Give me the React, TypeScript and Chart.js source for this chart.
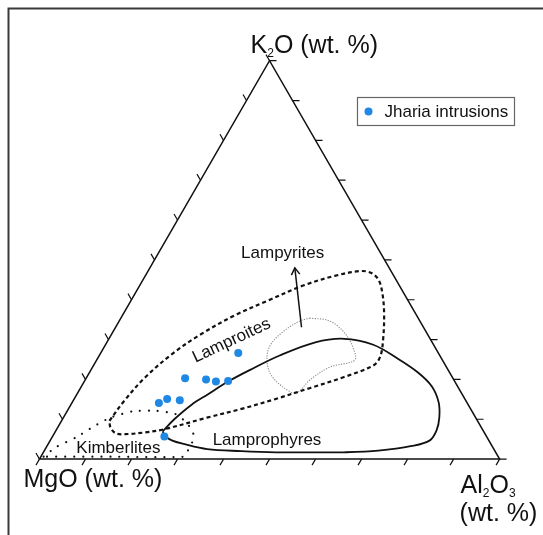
import { useEffect, useRef } from "react";
import { Chart, registerables } from "chart.js";

Chart.register(...registerables);

// ---- Data (ternary compositions, wt. %: K2O / Al2O3, MgO = remainder) ----
const jhariaK2O = [26.6, 20.3, 20.0, 19.5, 19.6, 14.1, 15.1, 14.8, 5.7];
const jhariaAl2O3 = [29.9, 21.5, 26.2, 28.6, 31.2, 18.9, 20.2, 23.1, 24.3];

const lamproiteK2O = [9.6, 14.6, 20.5, 26.5, 31.2, 36.1, 39.8, 43.5, 46.0, 47.2, 46.7, 45.0, 41.8, 36.8, 30.2, 25.7, 23.5, 20.6, 17.8, 15.1, 12.6, 10.4, 7.5, 6.7, 6.3, 6.4, 7.9, 9.6];
const lamproiteAl2O3 = [10.4, 11.1, 12.7, 15.7, 19.3, 24.4, 29.8, 35.4, 41.2, 46.2, 48.8, 51.2, 53.6, 56.5, 59.6, 61.2, 60.8, 55.9, 49.8, 43.8, 37.6, 31.2, 23.4, 19.6, 16.1, 13.5, 11.5, 10.4];

const lamprophyreK2O = [7.0, 10.0, 13.6, 16.3, 19.4, 22.4, 26.0, 29.3, 30.2, 28.7, 25.2, 21.8, 18.3, 14.3, 10.4, 7.2, 4.7, 3.3, 2.1, 1.7, 1.7, 1.7, 2.0, 2.5, 3.8, 4.7, 5.9, 7.0];
const lamprophyreAl2O3 = [23.3, 24.3, 26.2, 28.5, 31.2, 34.6, 39.2, 45.3, 51.1, 58.2, 65.3, 71.3, 76.1, 79.6, 81.7, 82.7, 82.5, 79.3, 72.6, 65.3, 57.9, 50.5, 42.9, 35.2, 29.4, 26.4, 24.2, 23.3];

const lampyriteK2O = [35.4, 34.6, 30.8, 25.7, 24.5, 23.1, 19.8, 16.6, 18.2, 21.5, 25.7, 29.2, 32.5, 34.6, 35.4];
const lampyriteAl2O3 = [41.0, 45.9, 51.5, 55.9, 55.9, 51.6, 48.8, 47.5, 43.7, 39.4, 36.6, 35.9, 37.3, 39.2, 41.0];

const kimberliteK2O = [0.6, 3.0, 5.4, 8.3, 10.4, 12.0, 12.1, 11.3, 9.4, 6.9, 4.7, 2.2, 0.6, 0.6, 0.6];
const kimberliteAl2O3 = [0.6, 2.1, 5.2, 7.8, 10.2, 14.3, 19.4, 23.9, 27.0, 29.9, 31.0, 31.2, 31.0, 15.5, 0.6];

const arrowK2O = [33.1, 48.0];
const arrowAl2O3 = [40.4, 31.5];

const fieldLabels = ["Lampyrites", "Lamproites", "Lamprophyres", "Kimberlites"];
const fieldLabelK2O = [51.7, 29.7, 4.7, 2.7];
const fieldLabelAl2O3 = [27.0, 26.9, 47.1, 15.8];
const fieldLabelAngle = [0, -25, 0, 0];

const tickValues = [0, 10, 20, 30, 40, 50, 60, 70, 80, 90, 100];
const legendLabel = "Jharia intrusions";

// ---- Geometry helpers ----
const SQ3_2 = Math.sqrt(3) / 2;
const toXY = (k: number, a: number) => ({ x: a / 100 + k / 200, y: (k / 100) * SQ3_2 });
const series = (K: number[], A: number[]) => K.map((k, i) => toXY(k, A[i]));

const W = 543;
const H = 535;
const SIDE = 467; // pixels per unit side
const OX = 36; // pixel of MgO corner
const OY = 462;

const FONT = "'Liberation Sans', Arial, Helvetica, sans-serif";

function drawRich(ctx: CanvasRenderingContext2D, parts: { t: string; s: number; dy?: number }[], x: number, y: number) {
  let cx = x;
  for (const p of parts) {
    ctx.font = `${p.s}px ${FONT}`;
    ctx.fillText(p.t, cx, y + (p.dy || 0));
    cx += ctx.measureText(p.t).width;
  }
}

const ternaryPlugin = {
  id: "ternaryDecor",
  beforeDatasetsDraw(chart: any) {
    const { ctx, scales } = chart;
    const xs = scales.x;
    const ys = scales.y;
    const P = (k: number, a: number) => {
      const p = toXY(k, a);
      return [xs.getPixelForValue(p.x), ys.getPixelForValue(p.y)];
    };
    ctx.save();
    // frame
    ctx.strokeStyle = "#3a3a3a";
    ctx.lineWidth = 2;
    ctx.beginPath();
    ctx.moveTo(8.5, H);
    ctx.lineTo(8.5, 8.5);
    ctx.lineTo(W, 8.5);
    ctx.stroke();
    // triangle
    const L = P(0, 0);
    const R = P(0, 100);
    const A = P(100, 0);
    ctx.strokeStyle = "#111";
    ctx.lineWidth = 1.5;
    ctx.beginPath();
    ctx.moveTo(L[0], L[1]);
    ctx.lineTo(R[0], R[1]);
    ctx.lineTo(A[0], A[1]);
    ctx.closePath();
    ctx.stroke();
    // ticks
    const len = 7;
    ctx.lineWidth = 1.2;
    ctx.beginPath();
    for (const t of tickValues) {
      const b = P(0, t);
      ctx.moveTo(b[0], b[1]);
      ctx.lineTo(b[0] - 0.5 * len, b[1] + SQ3_2 * len);
      const l = P(t, 0);
      ctx.moveTo(l[0], l[1]);
      ctx.lineTo(l[0] - 0.5 * len, l[1] - SQ3_2 * len);
      const r = P(t, 100 - t);
      ctx.moveTo(r[0], r[1]);
      ctx.lineTo(r[0] + len, r[1]);
    }
    ctx.stroke();
    ctx.restore();
  },
  afterDatasetsDraw(chart: any) {
    const { ctx, scales } = chart;
    const xs = scales.x;
    const ys = scales.y;
    const P = (k: number, a: number) => {
      const p = toXY(k, a);
      return [xs.getPixelForValue(p.x), ys.getPixelForValue(p.y)];
    };
    ctx.save();
    // arrowhead
    const t0 = P(arrowK2O[0], arrowAl2O3[0]);
    const t1 = P(arrowK2O[1], arrowAl2O3[1]);
    const ang = Math.atan2(t1[1] - t0[1], t1[0] - t0[0]);
    const hl = 8;
    const ha = (32 * Math.PI) / 180;
    ctx.strokeStyle = "#111";
    ctx.lineWidth = 1.5;
    ctx.beginPath();
    ctx.moveTo(t1[0] - hl * Math.cos(ang - ha), t1[1] - hl * Math.sin(ang - ha));
    ctx.lineTo(t1[0], t1[1]);
    ctx.lineTo(t1[0] - hl * Math.cos(ang + ha), t1[1] - hl * Math.sin(ang + ha));
    ctx.stroke();

    // field labels
    ctx.fillStyle = "#111";
    ctx.textAlign = "center";
    ctx.textBaseline = "middle";
    ctx.font = `17px ${FONT}`;
    fieldLabels.forEach((lab, i) => {
      const p = P(fieldLabelK2O[i], fieldLabelAl2O3[i]);
      ctx.save();
      ctx.translate(p[0], p[1]);
      ctx.rotate((fieldLabelAngle[i] * Math.PI) / 180);
      ctx.fillText(lab, 0, 0);
      ctx.restore();
    });

    // apex titles
    ctx.textAlign = "left";
    ctx.textBaseline = "alphabetic";
    const A = P(100, 0);
    const L = P(0, 0);
    const R = P(0, 100);
    drawRich(ctx, [{ t: "K", s: 25 }, { t: "2", s: 12, dy: 4 }, { t: "O (wt. %)", s: 25 }], A[0] - 19, A[1] - 8);
    drawRich(ctx, [{ t: "MgO (wt. %)", s: 25 }], L[0] - 16, L[1] + 28);
    drawRich(ctx, [{ t: "Al", s: 25 }, { t: "2", s: 12, dy: 4 }, { t: "O", s: 25 }, { t: "3", s: 12, dy: 4 }], R[0] - 39, R[1] + 34);
    drawRich(ctx, [{ t: "(wt. %)", s: 25 }], R[0] - 40, R[1] + 62);

    // legend
    const lx = 357.5, ly = 97.5, lw = 157, lh = 28;
    ctx.strokeStyle = "#666";
    ctx.lineWidth = 1.2;
    ctx.strokeRect(lx, ly, lw, lh);
    const ds = chart.data.datasets[0];
    ctx.fillStyle = ds.backgroundColor;
    ctx.beginPath();
    ctx.arc(lx + 11, ly + lh / 2, 4, 0, Math.PI * 2);
    ctx.fill();
    ctx.fillStyle = "#111";
    ctx.textBaseline = "middle";
    ctx.font = `17px ${FONT}`;
    ctx.fillText(legendLabel, lx + 27, ly + lh / 2 + 1);
    ctx.restore();
  },
};

export default function App() {
  const ref = useRef<HTMLCanvasElement | null>(null);
  useEffect(() => {
    if (!ref.current) return;
    const lineBase = { showLine: true, pointRadius: 0, pointHoverRadius: 0, fill: false };
    const chart = new Chart(ref.current, {
      type: "scatter",
      data: {
        datasets: [
          {
            label: legendLabel,
            data: series(jhariaK2O, jhariaAl2O3),
            backgroundColor: "#1f88e5",
            borderWidth: 0,
            pointRadius: 4,
            pointHoverRadius: 4,
          },
          {
            ...lineBase,
            label: "Lamproites",
            data: series(lamproiteK2O, lamproiteAl2O3),
            borderColor: "#111",
            borderWidth: 2.2,
            borderDash: [4, 3],
            tension: 0.35,
          },
          {
            ...lineBase,
            label: "Lamprophyres",
            data: series(lamprophyreK2O, lamprophyreAl2O3),
            borderColor: "#111",
            borderWidth: 1.8,
            tension: 0.35,
          },
          {
            ...lineBase,
            label: "Lampyrites",
            data: series(lampyriteK2O, lampyriteAl2O3),
            borderColor: "#8a8a8a",
            borderWidth: 1.1,
            borderDash: [1.2, 1.4],
            tension: 0.35,
          },
          {
            ...lineBase,
            label: "Kimberlites",
            data: series(kimberliteK2O, kimberliteAl2O3),
            borderColor: "#111",
            borderWidth: 2.2,
            borderDash: [0, 9],
            borderCapStyle: "round",
            tension: 0.2,
          },
          {
            ...lineBase,
            label: "arrow",
            data: series(arrowK2O, arrowAl2O3),
            borderColor: "#111",
            borderWidth: 1.5,
            tension: 0,
          },
        ],
      },
      options: {
        animation: false,
        responsive: false,
        events: [],
        layout: { padding: 0 },
        plugins: { legend: { display: false }, tooltip: { enabled: false } },
        scales: {
          x: { type: "linear", display: false, min: -OX / SIDE, max: (W - OX) / SIDE },
          y: { type: "linear", display: false, min: (OY - H) / SIDE, max: OY / SIDE },
        },
      } as any,
      plugins: [ternaryPlugin],
    });
    return () => chart.destroy();
  }, []);
  return (
    <div style={{ position: "absolute", left: 0, top: 0, width: W, height: H, background: "#fff" }}>
      <canvas ref={ref} width={W} height={H} style={{ display: "block" }} />
    </div>
  );
}
